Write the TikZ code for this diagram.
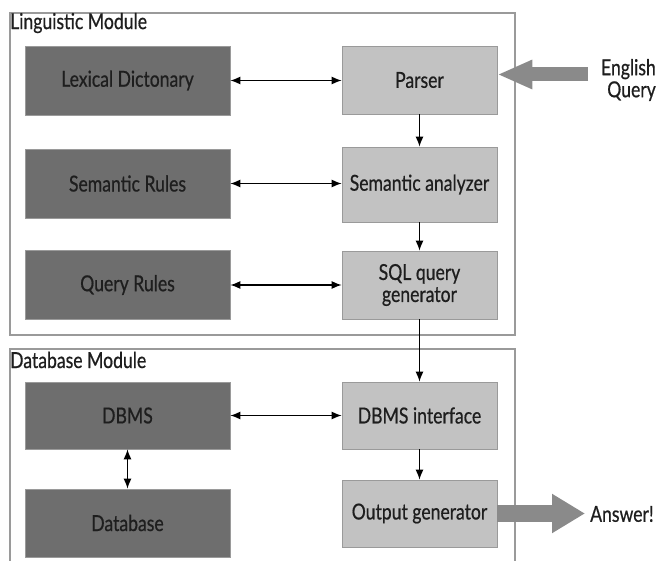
\documentclass[tikz,border=0pt]{standalone}
\usepackage{fontspec}
\setmainfont[FakeStretch=0.8, FakeBold=0.6]{Lato}
\usetikzlibrary{arrows.meta}
\definecolor{darkbox}{HTML}{6E6E6E}
\definecolor{lightbox}{HTML}{C2C2C2}
\definecolor{frameline}{HTML}{9A9A9A}
\definecolor{bigarrow}{HTML}{8A8A8A}
\definecolor{txt}{HTML}{1E1E1E}
\tikzset{
  base/.style={draw=frameline, line width=0.8pt, text=txt, align=center,
    inner sep=0pt, font=\fontsize{22}{22}\selectfont},
  store/.style={base, fill=darkbox, minimum width=205pt, minimum height=69pt},
  proc/.style={base, fill=lightbox, minimum width=155pt, minimum height=68pt},
  modframe/.style={draw=frameline, line width=1.2pt},
  modlabel/.style={anchor=west, inner sep=0pt, text=txt, font=\fontsize{22}{22}\selectfont},
  link/.style={line width=1.1pt, -{Latex[length=10pt,width=8pt]}},
  both/.style={line width=1.1pt, {Latex[length=10pt,width=8pt]}-{Latex[length=10pt,width=8pt]}},
  fat/.style={draw=bigarrow, line width=#1},
  plain/.style={text=txt, inner sep=0pt, font=\fontsize{22}{22}\selectfont},
}
\begin{document}
\begin{tikzpicture}[x=1pt, y=-1pt]
\useasboundingbox (0,0) rectangle (662,561);

% module frames
\draw[modframe] (10,13) rectangle (515,335);
\draw[modframe] (10,575) -- (10,349) -- (515,349) -- (515,575);
\node[modlabel] (lingtitle) at (10,23) {Linguistic Module};
\node[modlabel] (dbtitle) at (10,360) {Database Module};

% left column: knowledge stores
\node[store] (lex) at (127.5,80.5) {Lexical Dictonary};
\node[store] (semr) at (127.5,183.5) {Semantic Rules};
\node[store] (qr) at (127.5,285) {Query Rules};
\node[store, minimum height=67pt] (dbms) at (127.5,415.5) {DBMS};
\node[store, minimum height=68pt] (db) at (127.5,523) {Database};

% right column: processing stages
\node[proc] (parser) at (419.5,80) {Parser};
\node[proc, minimum height=75pt] (sema) at (419.5,184.5) {Semantic analyzer};
\node[proc] (sql) at (419.5,285) {SQL query\\generator};
\node[proc, minimum height=67pt] (dbi) at (419.5,415.5) {DBMS interface};
\node[proc, minimum height=67pt] (outg) at (419.5,513.5) {Output generator};

% horizontal lookups
\draw[both] (lex.east) -- (lex.east -| parser.west);
\draw[both] (semr.east) -- (semr.east -| sema.west);
\draw[both] (qr.east) -- (qr.east -| sql.west);
\draw[both] (dbms.east) -- (dbms.east -| dbi.west);
\draw[both] (dbms.south) -- (db.north);

% processing flow
\draw[link] (parser) -- (sema);
\draw[link] (sema) -- (sql);
\draw[link] (sql) -- (dbi);
\draw[link] (dbi) -- (outg);

% input and output
\node[plain, align=right, anchor=east] (eng) at (656,80) {English\\Query};
\coordinate (engstart) at (588,74.5);
\draw[fat=14pt, -{Triangle[length=35pt,width=27pt]}] (engstart) -- (engstart -| parser.east);
\node[plain, anchor=west] (ans) at (590,514) {Answer!};
\draw[fat=17pt, -{Triangle[length=33pt,width=37pt]}] (outg.east) -- (585,513.5);
\end{tikzpicture}
\end{document}
